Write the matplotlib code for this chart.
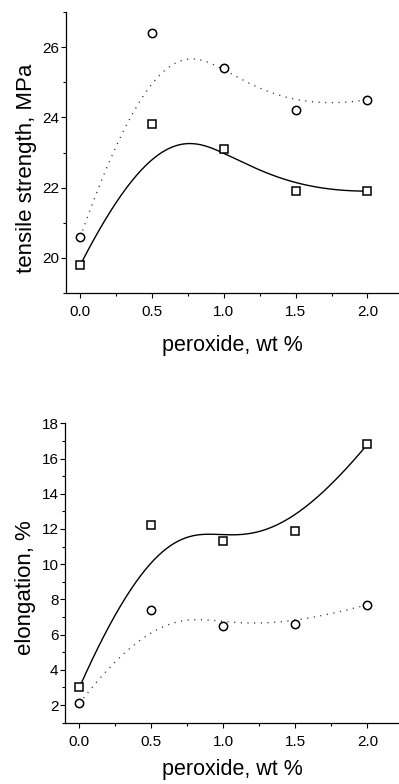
import numpy as np
import matplotlib
matplotlib.use('Agg')
import matplotlib.pyplot as plt
from matplotlib.ticker import MultipleLocator

plt.rcParams['font.family'] = ['Liberation Sans', 'DejaVu Sans']

# peroxide content, wt %
peroxide = [0.0, 0.5, 1.0, 1.5, 2.0]

# tensile strength, MPa
ts_squares = [19.8, 23.8, 23.1, 21.9, 21.9]
ts_circles = [20.6, 26.4, 25.4, 24.2, 24.5]

# elongation, %
el_squares = [3.0, 12.2, 11.3, 11.9, 16.8]
el_circles = [2.1, 7.4, 6.5, 6.6, 7.7]


def bspline(xs, ys, n=200):
    # clamped cubic B-spline with the data points as control points (Origin style)
    pts = np.column_stack([xs, ys])
    k = 3
    m = len(pts)
    knots = np.concatenate([np.zeros(k), np.arange(m - k + 1), np.full(k, m - k)])
    t = np.linspace(0, m - k, n)
    t[-1] -= 1e-9
    # Cox-de Boor
    B = np.zeros((n, len(knots) - 1))
    for i in range(len(knots) - 1):
        B[:, i] = (knots[i] <= t) & (t < knots[i + 1])
    for d in range(1, k + 1):
        Bn = np.zeros((n, len(knots) - 1 - d))
        for i in range(len(knots) - 1 - d):
            a = knots[i + d] - knots[i]
            b = knots[i + d + 1] - knots[i + 1]
            left = (t - knots[i]) / a * B[:, i] if a > 0 else 0
            right = (knots[i + d + 1] - t) / b * B[:, i + 1] if b > 0 else 0
            Bn[:, i] = left + right
        B = Bn
    curve = B @ pts
    return curve[:, 0], curve[:, 1]


def style(ax, ymaj):
    for s in ['top', 'right']:
        ax.spines[s].set_visible(False)
    for s in ['left', 'bottom']:
        ax.spines[s].set_linewidth(0.9)
    ax.xaxis.set_major_locator(MultipleLocator(0.5))
    ax.xaxis.set_minor_locator(MultipleLocator(0.25))
    ax.yaxis.set_major_locator(MultipleLocator(ymaj))
    ax.yaxis.set_minor_locator(MultipleLocator(ymaj / 2))
    ax.xaxis.set_major_formatter(matplotlib.ticker.FormatStrFormatter('%.1f'))
    ax.tick_params(which='major', length=3.6, width=0.8, labelsize=11)
    ax.tick_params(which='minor', length=2.2, width=0.8)
    ax.tick_params(axis='y', which='major', pad=1)
    ax.tick_params(axis='x', which='major', pad=5)
    ax.set_xlim(-0.1, 2.22)


def draw(ax, sq, ci):
    x, y = bspline(peroxide, sq)
    ax.plot(x, y, color='black', lw=1.0, zorder=2)
    x, y = bspline(peroxide, ci)
    ax.plot(x, y, color='#333333', lw=1.0, linestyle=(0, (0.8, 4.0)), zorder=2)
    ax.plot(peroxide, sq, ls='none', marker='s', ms=5.3, mfc='white', mec='black', mew=1.1, zorder=3, clip_on=False)
    ax.plot(peroxide, ci, ls='none', marker='o', ms=6.0, mfc='white', mec='black', mew=1.1, zorder=3, clip_on=False)


fig = plt.figure(figsize=(3.99, 7.84), dpi=100)

ax1 = fig.add_axes([66 / 399, 1 - 293 / 784, 1 - 66 / 399, 281 / 784])
draw(ax1, ts_squares, ts_circles)
style(ax1, 2)
ax1.set_ylim(19, 27)
ax1.set_xlabel('peroxide, wt %', fontsize=15.5)
ax1.set_ylabel('tensile strength, MPa', fontsize=16)
ax1.xaxis.set_label_coords(0.5, -0.148)
ax1.yaxis.set_label_coords(-0.087, 0.445)

ax2 = fig.add_axes([65 / 399, 1 - 722.7 / 784, 1 - 65 / 399, 299.4 / 784])
draw(ax2, el_squares, el_circles)
style(ax2, 2)
ax2.yaxis.set_minor_locator(MultipleLocator(1))
ax2.set_ylim(1, 18)
ax2.set_xlabel('peroxide, wt %', fontsize=15.5)
ax2.set_ylabel('elongation, %', fontsize=16)
ax2.xaxis.set_label_coords(0.5, -0.122)
ax2.yaxis.set_label_coords(-0.087, 0.45)

fig.savefig('out.png', dpi=100)
